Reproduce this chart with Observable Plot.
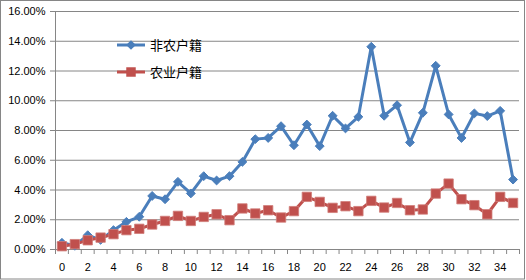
<!DOCTYPE html>
<html>
<head>
<meta charset="utf-8">
<script src="https://cdn.jsdelivr.net/npm/d3@7"></script>
<script src="https://cdn.jsdelivr.net/npm/@observablehq/plot@0.6"></script>
<style>
  html, body { margin: 0; padding: 0; background: #fff; }
  #chart svg { display: block; }
</style>
</head>
<body>
<div id="chart"></div>
<script>
const categories = [0,1,2,3,4,5,6,7,8,9,10,11,12,13,14,15,16,17,18,19,20,21,22,23,24,25,26,27,28,29,30,31,32,33,34,35];
const xTickLabels = [0,2,4,6,8,10,12,14,16,18,20,22,24,26,28,30,32,34];
const yTicks = [0,2,4,6,8,10,12,14,16];
const seriesNames = ["非农户籍", "农业户籍"];
// values in percent
const nonAgri = [0.45,0.25,0.96,0.65,1.30,1.86,2.20,3.60,3.38,4.55,3.77,4.93,4.64,4.93,5.89,7.42,7.50,8.29,7.01,8.40,6.95,8.99,8.14,8.92,13.63,8.99,9.70,7.20,9.19,12.35,9.08,7.50,9.15,8.97,9.32,4.70];
const agri = [0.22,0.36,0.62,0.80,1.03,1.30,1.39,1.68,1.92,2.26,1.92,2.19,2.37,1.97,2.76,2.42,2.64,2.15,2.58,3.54,3.20,2.80,2.91,2.58,3.27,2.82,3.13,2.64,2.69,3.76,4.43,3.38,2.98,2.37,3.54,3.13];

const blue = "#4A7EBB";
const red = "#C0504D";
const gray = "#868686";

const dataA = categories.map((c, i) => ({x: c, y: nonAgri[i]}));
const dataB = categories.map((c, i) => ({x: c, y: agri[i]}));
const boundaries = categories.map(c => c - 0.5).concat([categories[categories.length - 1] + 0.5]);

const chart = Plot.plot({
  width: 526,
  height: 280,
  marginLeft: 55,
  marginRight: 7,
  marginTop: 11,
  marginBottom: 31,
  style: {fontFamily: "'Liberation Sans', Arial, sans-serif", fontSize: "11px", background: "#fff"},
  x: {domain: [-0.5, 35.5]},
  y: {domain: [0, 16]},
  marks: [
    Plot.gridY(yTicks, {stroke: gray, strokeOpacity: 1}),
    Plot.axisY(yTicks, {tickSize: 5, tickPadding: 5, stroke: gray, fill: "#000", tickFormat: d => d.toFixed(2) + "%", label: null}),
    Plot.axisX(boundaries, {tickSize: 5, stroke: gray, tickFormat: () => "", label: null}),
    Plot.axisX(xTickLabels, {tickSize: 0, tickPadding: 14, fill: "#000", label: null}),
    Plot.ruleX([-0.5], {stroke: gray}),
    Plot.line(dataA, {x: "x", y: "y", stroke: blue, strokeWidth: 3}),
    Plot.dot(dataA, {x: "x", y: "y", symbol: "diamond2", r: 4, fill: blue, stroke: blue, strokeWidth: 1}),
    Plot.line(dataB, {x: "x", y: "y", stroke: red, strokeWidth: 3}),
    Plot.dot(dataB, {x: "x", y: "y", symbol: "square", r: 5.3, fill: red, stroke: "#d07d7a", strokeWidth: 0.8})
  ]
});

document.getElementById("chart").appendChild(chart);

// legend and outer border
const svg = d3.select(chart);
svg.append("rect")
  .attr("x", 0.5).attr("y", 0.5).attr("width", 524).attr("height", 278.5)
  .attr("fill", "none").attr("stroke", gray).attr("stroke-width", 1);

const legend = [
  {name: seriesNames[0], color: blue, sym: d3.symbolDiamond2, size: 60},
  {name: seriesNames[1], color: red, sym: d3.symbolSquare, size: 90}
];
legend.forEach((d, i) => {
  const ly = 45 + i * 27;
  const g = svg.append("g");
  g.append("line").attr("x1", 117).attr("x2", 145).attr("y1", ly).attr("y2", ly)
    .attr("stroke", d.color).attr("stroke-width", 3);
  g.append("path").attr("d", d3.symbol(d.sym, d.size)())
    .attr("transform", `translate(131,${ly})`).attr("fill", d.color);
  g.append("text").attr("x", 150).attr("y", ly).attr("dy", "0.36em")
    .attr("text-anchor", "start")
    .attr("font-family", "'Noto Sans CJK SC', sans-serif").attr("font-size", 13)
    .attr("fill", "#000").text(d.name);
});
</script>
</body>
</html>
